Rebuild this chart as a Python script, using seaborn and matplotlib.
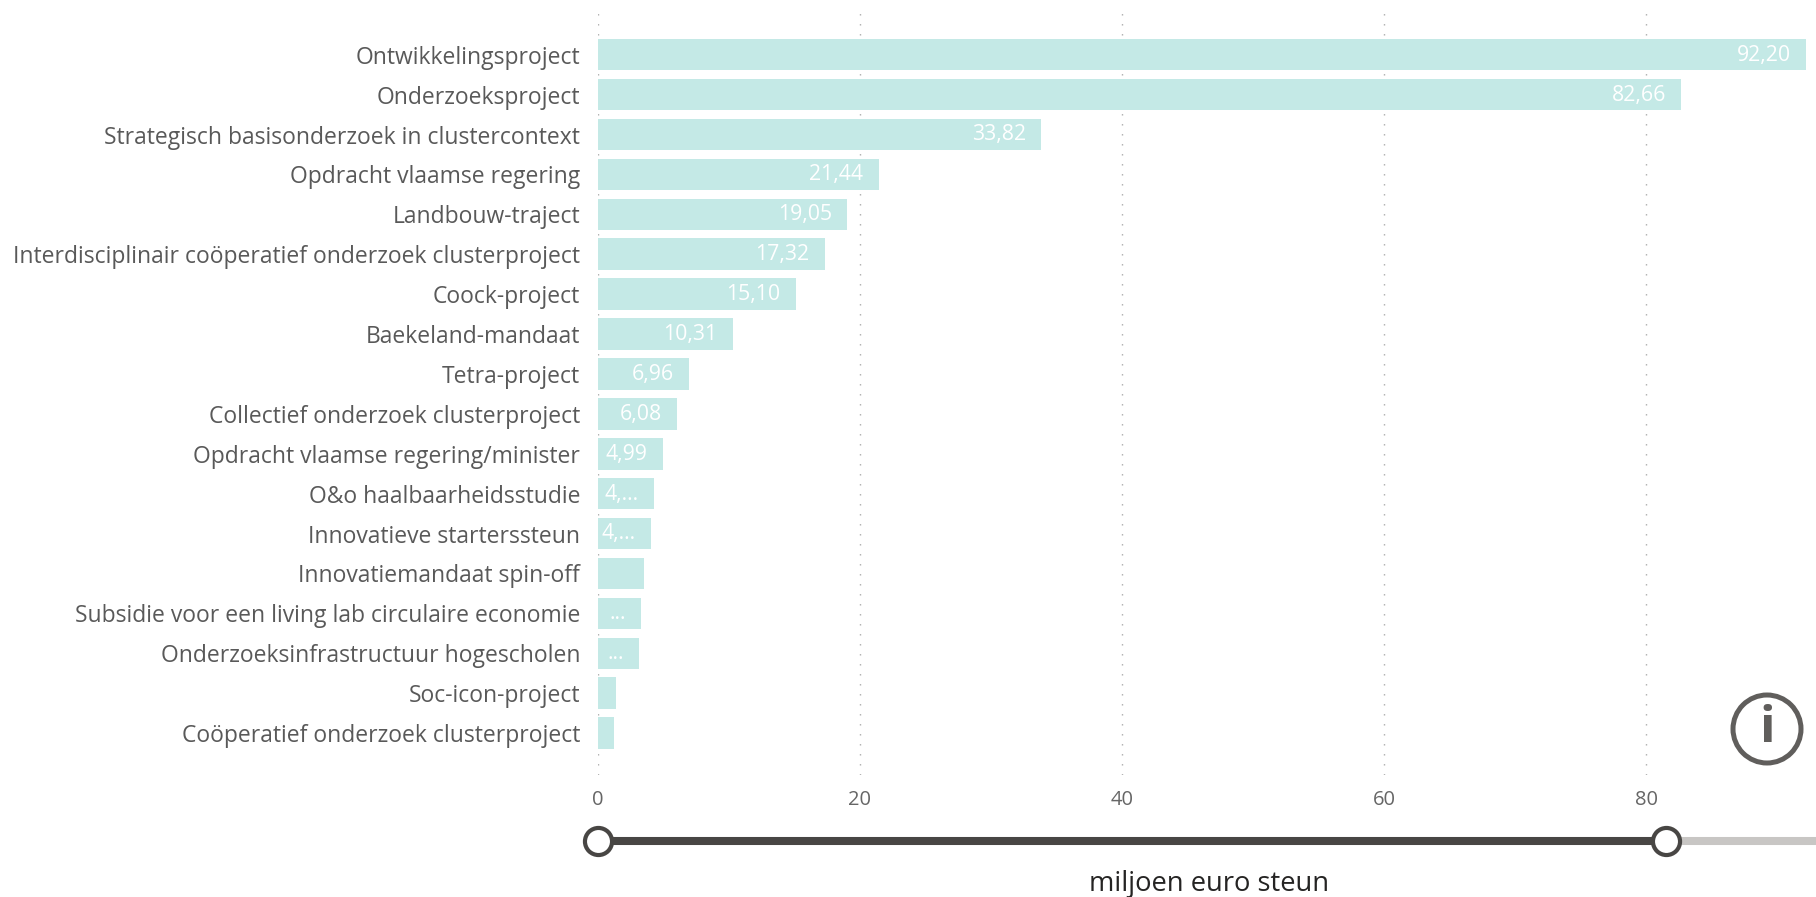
import matplotlib
matplotlib.use('Agg')
import matplotlib.pyplot as plt
from matplotlib.patches import Circle
from matplotlib.transforms import IdentityTransform
import pandas as pd
import seaborn as sns

# Data
categories = [
    'Ontwikkelingsproject', 'Onderzoeksproject',
    'Strategisch basisonderzoek in clustercontext', 'Opdracht vlaamse regering',
    'Landbouw-traject', 'Interdisciplinair coöperatief onderzoek clusterproject',
    'Coock-project', 'Baekeland-mandaat', 'Tetra-project',
    'Collectief onderzoek clusterproject', 'Opdracht vlaamse regering/minister',
    'O&o haalbaarheidsstudie', 'Innovatieve starterssteun',
    'Innovatiemandaat spin-off', 'Subsidie voor een living lab circulaire economie',
    'Onderzoeksinfrastructuur hogescholen', 'Soc-icon-project',
    'Coöperatief onderzoek clusterproject',
]
values = [92.20, 82.66, 33.82, 21.44, 19.05, 17.32, 15.10, 10.31, 6.96,
          6.08, 4.99, 4.33, 4.10, 3.51, 3.31, 3.18, 1.38, 1.23]
bar_labels = ['92,20', '82,66', '33,82', '21,44', '19,05', '17,32', '15,10',
              '10,31', '6,96', '6,08', '4,99', '4,...', '4,...', '', '...',
              '...', '', '']
x_ticks = [0, 20, 40, 60, 80]
slider_range = [0, 81.47]

W, H = 1816, 897
plt.rcParams['font.family'] = ['Open Sans', 'DejaVu Sans']

df = pd.DataFrame({'category': categories, 'value': values})

fig = plt.figure(figsize=(W / 100, H / 100), dpi=100)
# axes box in pixels: x 597.6 to the right edge, y 12 to 775
ax = fig.add_axes([597.6 / W, 1 - 775 / H, (W - 597.6) / W, (775 - 12) / H])

sns.barplot(data=df, x='value', y='category', color='#C4E9E6', saturation=1,
            width=0.79, ax=ax, zorder=2)

ax.set_xlim(0, (W - 597.6) / 13.11)
ax.set_ylim(18.05, -1.07)
ax.set_xticks(x_ticks)
ax.set_xlabel('')
ax.set_ylabel('')
ax.grid(axis='x', color='#ABABAB', linewidth=1.0, linestyle=(0, (1, 6.2)), zorder=0)
ax.grid(axis='y', visible=False)
ax.set_axisbelow(True)
for s in ax.spines.values():
    s.set_visible(False)
ax.tick_params(axis='y', length=0, pad=12.5, labelsize=16.5, labelcolor='#595959')
ax.tick_params(axis='x', length=0, pad=11, labelsize=14.5, labelcolor='#666666')

for i, lab in enumerate(bar_labels):
    if lab:
        ax.annotate(lab, (values[i], i), xytext=(-11, -0.3), textcoords='offset points',
                    ha='right', va='center', color='white', fontsize=15.3)

# slider under the axis
tr = ax.get_xaxis_transform()
slider_y = (775 - 841) / (775 - 12)
ax.plot([slider_range[1], ax.get_xlim()[1]], [slider_y, slider_y], transform=tr,
        color='#C8C6C4', lw=5.8, clip_on=False, solid_capstyle='butt')
ax.plot(slider_range, [slider_y, slider_y], transform=tr, color='#484644', lw=5.8,
        clip_on=False, solid_capstyle='butt', marker='o', ms=19.5, mfc='white',
        mec='#484644', mew=3)

fig.text(1209 / W, 1 - 884 / H, 'miljoen euro steun', ha='center', va='center',
         fontsize=19.7, color='#252423')

# info icon
fig.add_artist(Circle((1767, H - 729), 34, transform=IdentityTransform(),
                      fill=False, ec='#605E5C', lw=3.6))
fig.text(1767 / W, 1 - 729 / H, 'i', ha='center', va='center', fontsize=37,
         fontweight='bold', color='#605E5C')

fig.savefig('out.png', dpi=100)
